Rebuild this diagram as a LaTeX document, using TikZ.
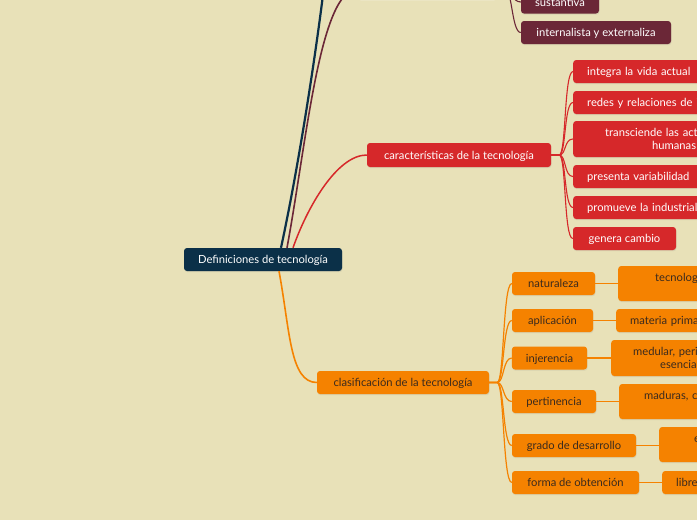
\documentclass[tikz,border=0pt]{standalone}
\usepackage{fontspec}
\setmainfont{Lato}
\usepackage{tikz}
\usetikzlibrary{shadows}

\definecolor{paper}{RGB}{232,225,184}
\definecolor{navy}{RGB}{11,48,72}
\definecolor{wine}{RGB}{107,39,55}
\definecolor{mmred}{RGB}{214,40,42}
\definecolor{amber}{RGB}{245,130,0}
\definecolor{ink}{RGB}{58,42,30}

\tikzset{
  box/.style={rounded corners=3pt, inner xsep=14pt, inner ysep=0pt,
    minimum height=23pt, font=\fontsize{11.2}{13}\selectfont,
    text height=8.5pt, text depth=0pt,
    drop shadow={shadow xshift=0.5pt, shadow yshift=-1.2pt, opacity=0.15}},
  twoline/.style={text height={}, text depth={}},
  rbox/.style={box, fill=mmred, text=white},
  obox/.style={box, fill=amber, text=ink},
  wbox/.style={box, fill=wine, text=white},
  rleaf/.style={rbox, anchor=west, text width=160pt, align=left},
  oleaf/.style={obox, anchor=west, text width=160pt, align=left},
  fork/.style={to path={-- ++(8,0) .. controls +(7,0) and +(-9,0) .. (\tikztotarget)}}
}
\newcommand{\topstrut}{\rule{0pt}{12pt}}

\begin{document}
\begin{tikzpicture}[x=1pt,y=-1pt]
    \fill[paper] (0,0) rectangle (697,520);
    \clip (0,0) rectangle (697,520);

    % centre
    \node[box, fill=navy, text=white, minimum width=158pt] (root) at (263,259.5) {Definiciones de tecnología};
    \coordinate (navytop) at (326,-30);

    % top branch
    \node[fill=paper!75!white, rounded corners=3pt, minimum width=139pt, minimum height=23pt, inner sep=0pt] (defs) at (427.5,-11) {};
    \node[wbox, minimum width=78pt] (m1) at (560,2) {sustantiva};
    \node[wbox, minimum width=150pt] (m2) at (596,32.5) {internalista y externaliza};

    % caracteristicas
    \node[rbox, minimum width=184pt, minimum height=24pt] (car) at (459,155) {características de la tecnología};
    \node[rleaf] (r1) at (573,71.5) {integra la vida actual};
    \node[rleaf] (r2) at (573,102.5) {redes y relaciones de i};
    \node[rleaf, twoline, minimum height=36pt] (r3) at (573,139) {\topstrut\hspace*{18pt}transciende las act\\\strut\hspace*{65pt}humanas};
    \node[rleaf] (r4) at (573,176.5) {presenta variabilidad};
    \node[rleaf] (r5) at (573,207.5) {promueve la industrial};
    \node[rbox, minimum width=103pt] (r6) at (624.5,238.5) {genera cambio};

    % clasificacion
    \node[obox, minimum width=172pt] (clas) at (403,382.5) {clasificación de la tecnología};
    \node[obox, minimum width=83pt] (o1) at (553.5,283.5) {naturaleza};
    \node[obox, minimum width=81pt] (o2) at (552.5,320.5) {aplicación};
    \node[obox, minimum width=75pt] (o3) at (549.5,358) {injerencia};
    \node[obox, minimum width=84pt] (o4) at (554,401.5) {pertinencia};
    \node[obox, minimum width=124pt] (o5) at (574,445.5) {grado de desarrollo};
    \node[obox, minimum width=127pt] (o6) at (575.5,482.5) {forma de obtención};

    \node[oleaf, twoline, minimum height=35pt] (ol1) at (618,283.5) {\topstrut\hspace*{23pt}tecnolog\\\strut};
    \node[oleaf] (ol2) at (616,320.5) {materia prima};
    \node[oleaf, twoline, minimum height=36pt] (ol3) at (611,358) {\topstrut\hspace*{8pt}medular, peri\\\strut\hspace*{35pt}esencia};
    \node[oleaf, twoline, minimum height=35pt] (ol4) at (619,401.5) {\topstrut\hspace*{11pt}maduras, c\\\strut};
    \node[oleaf, twoline, minimum height=35pt] (ol5) at (659,444.5) {\topstrut\hspace*{21pt}e\\\strut};
    \node[oleaf] (ol6) at (662,482.5) {libre};

    % main branches
    \draw[navy, line width=2.2pt] ([xshift=18pt]root.north) .. controls +(19,-88) and +(-8,70) .. (navytop);
    \draw[wine, line width=1.6pt] ([xshift=24pt]root.north) .. controls +(20,-108) and +(-38,0) .. (defs.west);
    \draw[mmred, line width=1.5pt] ([xshift=30pt]root.north) .. controls +(14,-40) and +(-30,0) .. (car.west);
    \draw[amber, line width=1.6pt] ([xshift=16pt]root.south) .. controls +(11,59) and +(-27,0) .. (clas.west);

    % sub branches
    \foreach \n in {1,2}
        \draw[wine, line width=1.1pt] (defs.east) to[fork] (m\n.west);
    \foreach \n in {1,...,6}
        \draw[mmred, line width=1.1pt] (car.east) to[fork] (r\n.west);
    \foreach \n in {1,...,6} {
        \draw[amber, line width=1.2pt] (clas.east) to[fork] (o\n.west);
        \draw[amber, line width=1.2pt] (o\n.east) -- (o\n.east -| ol\n.west);
    }
\end{tikzpicture}
\end{document}
